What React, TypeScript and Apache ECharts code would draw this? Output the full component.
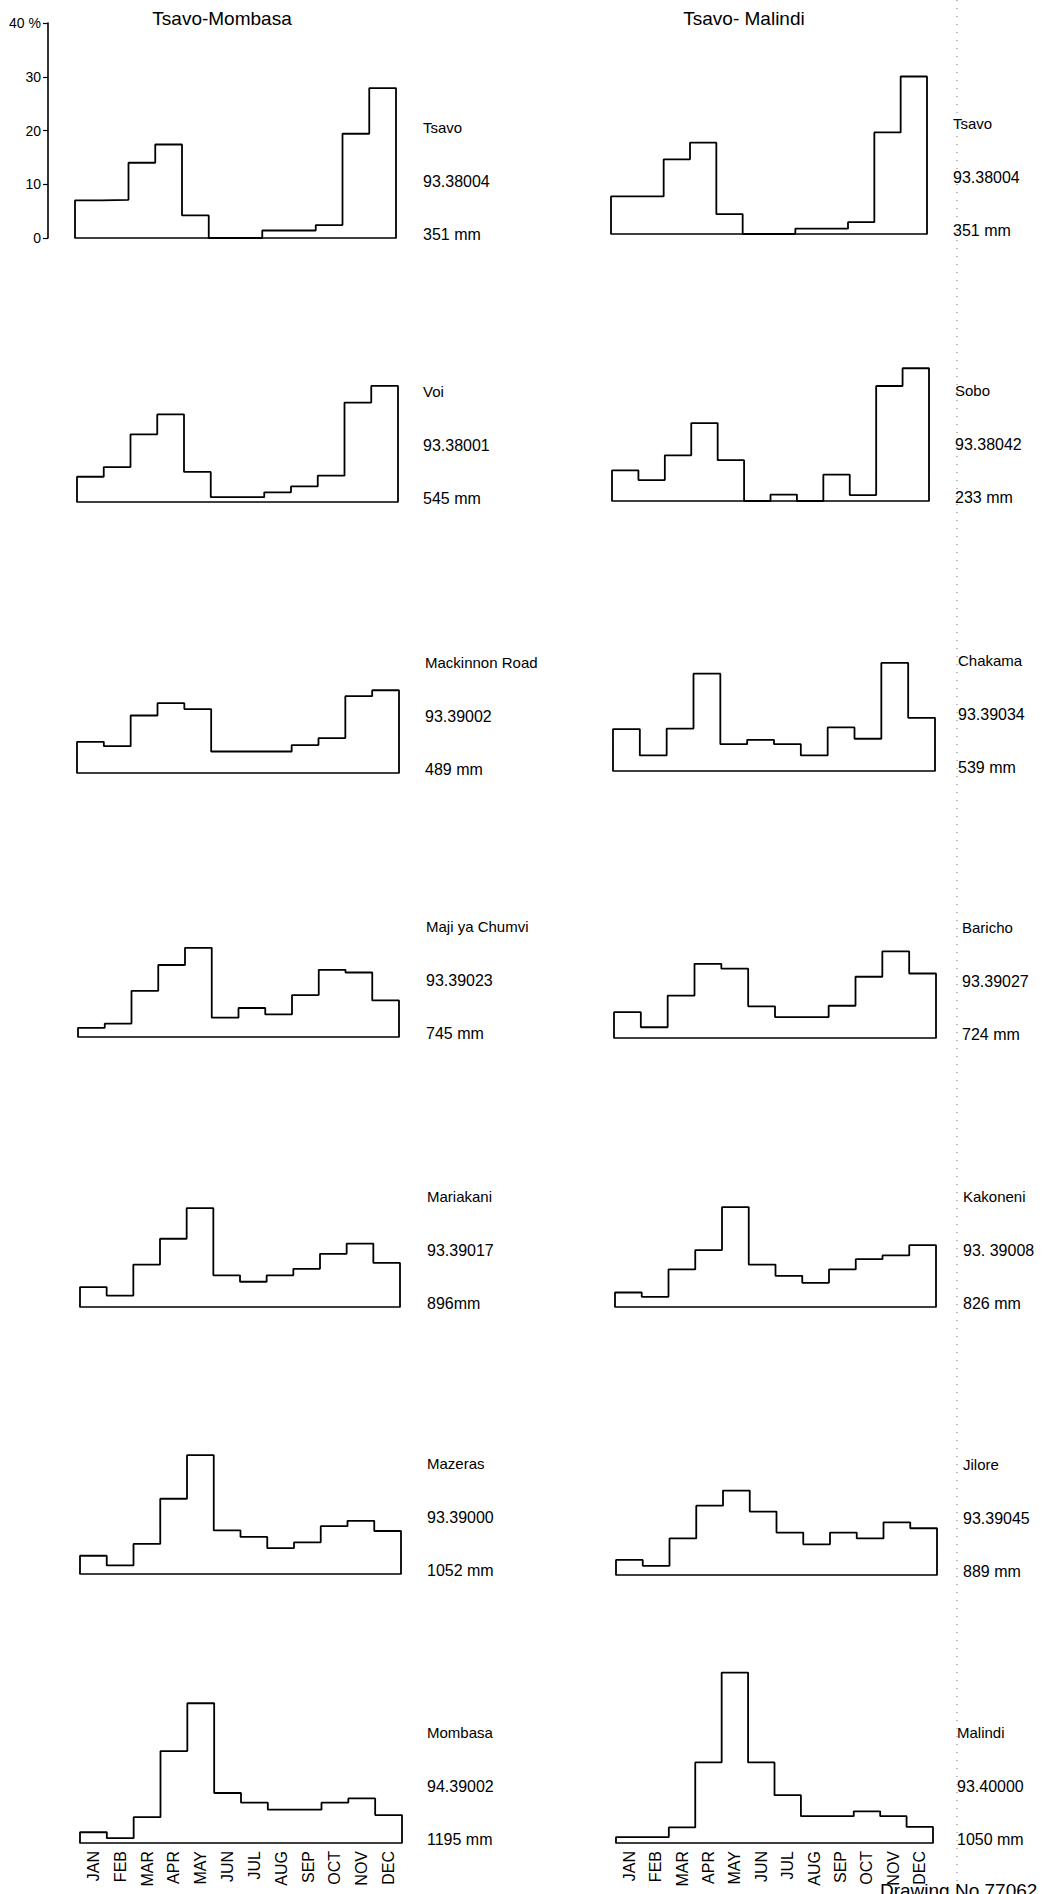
import React, { useEffect, useRef } from "react";
import * as echarts from "echarts";

// ---- data (percent of annual rainfall per month) ----
const MONTHS = ["JAN", "FEB", "MAR", "APR", "MAY", "JUN", "JUL", "AUG", "SEP", "OCT", "NOV", "DEC"];
const Y_TICKS_MAX = 40;
const Y_TICK_STEP = 10;

const COLUMN_TITLES = ["Tsavo-Mombasa", "Tsavo- Malindi"];

// Left column (Tsavo - Mombasa)
const tsavoA = [7.0, 7.1, 14.0, 17.4, 4.2, 0, 0, 1.4, 1.4, 2.4, 19.4, 27.9];
const voi = [4.7, 6.5, 12.6, 16.3, 5.6, 0.9, 0.9, 1.8, 2.9, 4.9, 18.5, 21.6];
const mackinnonRoad = [5.8, 5.0, 10.7, 13.0, 11.9, 4.0, 4.0, 4.0, 5.2, 6.5, 14.3, 15.4];
const majiYaChumvi = [1.7, 2.5, 8.6, 13.4, 16.6, 3.6, 5.4, 4.2, 7.8, 12.5, 12.0, 6.8];
const mariakani = [3.7, 2.1, 7.9, 12.7, 18.4, 5.9, 4.7, 5.9, 7.1, 9.9, 11.8, 8.2];
const mazeras = [3.4, 1.6, 5.6, 14.0, 22.1, 8.1, 6.9, 4.8, 5.9, 8.9, 9.9, 8.0];
const mombasa = [2.0, 0.9, 4.8, 17.1, 26.0, 9.3, 7.5, 6.2, 6.2, 7.5, 8.3, 5.2];

// Right column (Tsavo - Malindi)
const tsavoB = [7.0, 7.0, 13.9, 17.0, 3.7, 0, 0, 1.0, 1.0, 2.2, 18.9, 29.3];
const sobo = [5.7, 3.9, 8.5, 14.5, 7.6, 0, 1.2, 0, 4.9, 1.1, 21.4, 24.7];
const chakama = [7.8, 2.9, 7.9, 18.1, 5.0, 5.8, 5.0, 2.9, 8.1, 6.0, 20.1, 9.9];
const baricho = [4.8, 2.0, 7.9, 13.8, 12.9, 5.9, 3.9, 3.9, 6.0, 11.4, 16.1, 12.0];
const kakoneni = [2.7, 1.9, 7.0, 10.6, 18.6, 7.9, 5.8, 4.5, 7.0, 8.9, 9.6, 11.5];
const jilore = [2.8, 1.7, 6.8, 12.9, 15.7, 11.8, 7.9, 5.7, 7.9, 6.8, 9.8, 8.7];
const malindi = [1.1, 1.1, 2.9, 15.0, 31.7, 15.0, 8.9, 5.0, 5.0, 5.9, 5.0, 3.0];

const LEFT_SERIES = [tsavoA, voi, mackinnonRoad, majiYaChumvi, mariakani, mazeras, mombasa];
const LEFT_NAMES = ["Tsavo", "Voi", "Mackinnon Road", "Maji ya Chumvi", "Mariakani", "Mazeras", "Mombasa"];
const LEFT_CODES = ["93.38004", "93.38001", "93.39002", "93.39023", "93.39017", "93.39000", "94.39002"];
const LEFT_TOTALS = ["351 mm", "545 mm", "489 mm", "745 mm", "896mm", "1052 mm", "1195 mm"];

const RIGHT_SERIES = [tsavoB, sobo, chakama, baricho, kakoneni, jilore, malindi];
const RIGHT_NAMES = ["Tsavo", "Sobo", "Chakama", "Baricho", "Kakoneni", "Jilore", "Malindi"];
const RIGHT_CODES = ["93.38004", "93.38042", "93.39034", "93.39027", "93. 39008", "93.39045", "93.40000"];
const RIGHT_TOTALS = ["351 mm", "233 mm", "539 mm", "724 mm", "826 mm", "889 mm", "1050 mm"];

const DRAWING_NO = "Drawing No 77062";

// ---- layout (pixels) ----
const W = 1049;
const H = 1894;
const PANEL_H = 215; // height of 0..40 %
const LEFT_X = [75, 77, 77, 78, 80, 80, 80];
const LEFT_W = [321, 321, 322, 321, 320, 321, 322];
const LEFT_BASE = [238, 502, 773, 1037, 1307, 1574, 1843];
const LEFT_TEXT_X = [423, 423, 425, 426, 427, 427, 427];
const RIGHT_X = [611, 612, 613, 614, 615, 616, 616];
const RIGHT_W = [316, 317, 322, 322, 321, 321, 317];
const RIGHT_BASE = [234, 501, 771, 1038, 1307, 1575, 1843];
const RIGHT_TEXT_X = [953, 955, 958, 962, 963, 963, 957];
const FONT = "'Liberation Sans', Arial, Helvetica, sans-serif";

function stepPoints(vals: number[]): number[][] {
  const pts: number[][] = [[0, 0]];
  vals.forEach((v, i) => pts.push([i, v]));
  pts.push([vals.length, vals[vals.length - 1]]);
  pts.push([vals.length, 0]);
  return pts;
}

function buildOption() {
  const grids: any[] = [];
  const xAxes: any[] = [];
  const yAxes: any[] = [];
  const series: any[] = [];
  const graphics: any[] = [];

  const panels: { vals: number[]; x: number; w: number; base: number; tx: number; name: string; code: string; total: string; bottom: boolean; first: boolean }[] = [];
  LEFT_SERIES.forEach((vals, i) =>
    panels.push({ vals, x: LEFT_X[i], w: LEFT_W[i], base: LEFT_BASE[i], tx: LEFT_TEXT_X[i], name: LEFT_NAMES[i], code: LEFT_CODES[i], total: LEFT_TOTALS[i], bottom: i === LEFT_SERIES.length - 1, first: i === 0 })
  );
  RIGHT_SERIES.forEach((vals, i) =>
    panels.push({ vals, x: RIGHT_X[i], w: RIGHT_W[i], base: RIGHT_BASE[i], tx: RIGHT_TEXT_X[i], name: RIGHT_NAMES[i], code: RIGHT_CODES[i], total: RIGHT_TOTALS[i], bottom: i === RIGHT_SERIES.length - 1, first: false })
  );

  const extraCat: any[] = [];

  panels.forEach((p, i) => {
    grids.push({ left: p.x, top: p.base - PANEL_H, width: p.w, height: PANEL_H, containLabel: false });
    xAxes.push({
      type: "value",
      gridIndex: i,
      min: 0,
      max: MONTHS.length,
      axisLine: { show: true, onZero: true, lineStyle: { color: "#000", width: 1.6 } },
      axisTick: { show: false },
      axisLabel: { show: false },
      splitLine: { show: false },
    });
    yAxes.push({
      type: "value",
      gridIndex: i,
      min: 0,
      max: Y_TICKS_MAX,
      interval: Y_TICK_STEP,
      show: p.first,
      position: "left",
      offset: p.first ? 27 : 0,
      axisLine: { show: p.first, onZero: false, lineStyle: { color: "#000", width: 1.6 } },
      axisTick: { show: p.first, length: 5, lineStyle: { color: "#000", width: 1.2 } },
      axisLabel: {
        show: p.first,
        margin: 7,
        color: "#000",
        fontSize: 14,
        fontFamily: FONT,
        formatter: (v: number) => (v === Y_TICKS_MAX ? v + " %" : String(v)),
      },
      splitLine: { show: false },
    });
    series.push({
      type: "line",
      xAxisIndex: i,
      yAxisIndex: i,
      step: "end",
      symbol: "none",
      silent: true,
      clip: false,
      lineStyle: { color: "#000", width: 1.8 },
      data: stepPoints(p.vals),
    });
    if (p.bottom) {
      extraCat.push({
        type: "category",
        gridIndex: i,
        data: MONTHS,
        boundaryGap: true,
        position: "bottom",
        axisLine: { show: false },
        axisTick: { show: false },
        splitLine: { show: false },
        axisLabel: { interval: 0, rotate: 90, margin: 8, color: "#000", fontSize: 16, fontFamily: FONT },
      });
    }
    const tstyle = (text: string, y: number, size: number) => ({
      type: "text",
      x: p.tx,
      y,
      silent: true,
      style: { text, fill: "#000", font: `${size}px ${FONT}`, textAlign: "left", textVerticalAlign: "middle" },
    });
    graphics.push(tstyle(p.name, p.base - 111, 15));
    graphics.push(tstyle(p.code, p.base - 57, 16));
    graphics.push(tstyle(p.total, p.base - 4, 16));
  });

  extraCat.forEach((a) => xAxes.push(a));

  // column titles
  graphics.push({
    type: "text", x: 222, y: 18, silent: true,
    style: { text: COLUMN_TITLES[0], fill: "#000", font: `19px ${FONT}`, textAlign: "center", textVerticalAlign: "middle" },
  });
  graphics.push({
    type: "text", x: 744, y: 18, silent: true,
    style: { text: COLUMN_TITLES[1], fill: "#000", font: `19px ${FONT}`, textAlign: "center", textVerticalAlign: "middle" },
  });
  // dotted margin line
  graphics.push({
    type: "line", silent: true,
    shape: { x1: 957, y1: 0, x2: 957, y2: H },
    style: { stroke: "#777", lineWidth: 1, lineDash: [1, 7] },
  });
  // drawing number (cut by the lower edge, as in the original sheet)
  graphics.push({
    type: "text", x: 880, y: 1881, silent: true,
    style: { text: DRAWING_NO, fill: "#000", font: `19px ${FONT}`, textAlign: "left", textVerticalAlign: "top" },
  });

  return {
    animation: false,
    backgroundColor: "#fff",
    grid: grids,
    xAxis: xAxes,
    yAxis: yAxes,
    series,
    graphic: graphics,
  };
}

export default function App() {
  const ref = useRef<HTMLDivElement>(null);
  useEffect(() => {
    if (!ref.current) return;
    const chart = echarts.init(ref.current, undefined, { renderer: "svg", width: W, height: H });
    chart.setOption(buildOption() as any);
    return () => chart.dispose();
  }, []);
  return (
    <div
      ref={ref}
      style={{ position: "absolute", left: 0, top: 0, width: W, height: H, background: "#fff", overflow: "hidden" }}
    />
  );
}
